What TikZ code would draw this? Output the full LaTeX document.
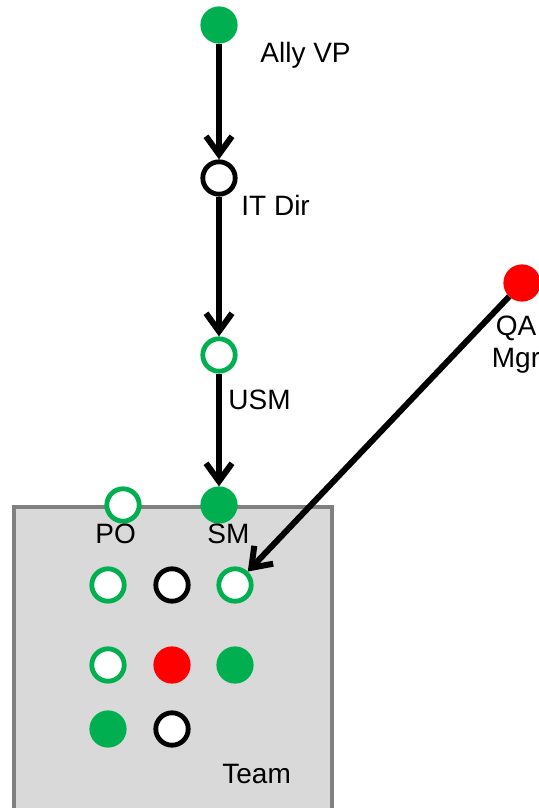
\documentclass[tikz,border=0pt]{standalone}
\usepackage{fontspec}
\setmainfont{Liberation Sans}
\usepackage{xcolor}
\usetikzlibrary{positioning,arrows.meta}
\definecolor{verde}{HTML}{00B050}
\definecolor{rojo}{HTML}{FF0000}
\definecolor{gris}{HTML}{D9D9D9}
\definecolor{borde}{HTML}{808080}

\begin{document}
\begin{tikzpicture}[
  x=0.5pt, y=-0.5pt,
  font=\fontsize{14}{16}\selectfont,
  rol/.style={circle, line width=2.4pt, minimum size=16.2pt, inner sep=0pt},
  hueco/.style={rol, draw=#1, fill=white},
  lleno/.style={rol, draw=#1, fill=#1},
  etiq/.style={inner sep=0pt, anchor=base west},
  flecha/.style={-{Straight Barb[length=9pt, width=13pt, line width=3pt]}, line width=3pt}
]
  \useasboundingbox (0,0) rectangle (539,808);
  \node[draw=borde, line width=2pt, fill=gris, minimum width=159pt, minimum height=200pt, anchor=north west] (team) at (12,505) {};

  \node[lleno=verde] (vp) at (219,25) {};
  \node[etiq] (vplab) at (260,63) {Ally VP};
  \node[hueco=black] (itdir) at (219,178) {};
  \node[etiq] (itlab) at (241,215) {IT Dir};
  \node[hueco=verde] (usm) at (219,355) {};
  \node[etiq] (usmlab) at (228,409) {USM};
  \node[lleno=verde] (sm) at (219,505) {};
  \node[etiq] (smlab) at (207,543) {SM};
  \node[hueco=verde] (po) at (123,505) {};
  \node[etiq] (polab) at (95,543) {PO};

  \node[lleno=rojo] (qa) at (522,283) {};
  \node[inner sep=0pt, align=center, anchor=base] (qalab) at (516,367) {QA\\Mgr};

  % equipo
  \node[hueco=verde] (t11) at (108,585) {};
  \node[hueco=black] (t12) at (172,585) {};
  \node[hueco=verde] (t13) at (235,585) {};
  \node[hueco=verde] (t21) at (108,665) {};
  \node[lleno=rojo] (t22) at (172,665) {};
  \node[lleno=verde] (t23) at (235,665) {};
  \node[lleno=verde] (t31) at (108,729) {};
  \node[hueco=black] (t32) at (172,729) {};
  \node[etiq] (teamlab) at (222,783) {Team};

  \draw[flecha] (vp) -- (itdir);
  \draw[flecha] (itdir) -- (usm);
  \draw[flecha] (usm) -- (sm);
  \draw[flecha] (qa) -- (t13);
\end{tikzpicture}
\end{document}
